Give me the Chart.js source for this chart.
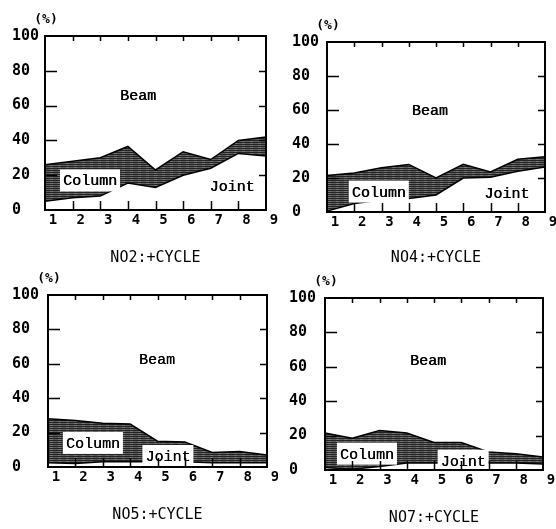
<!DOCTYPE html>
<html><head><meta charset="utf-8">
<script src="https://cdn.jsdelivr.net/npm/chart.js@4"></script>
<style>
html,body{margin:0;padding:0;background:#fff;}
#wrap{position:relative;width:556px;height:529px;overflow:hidden;background:#fff;}
.panel{position:absolute;}
canvas{display:block;}
</style></head><body>
<div id="wrap">
<div class="panel" style="left:0;top:0;"><canvas id="c1" width="278" height="270"></canvas></div>
<div class="panel" style="left:278px;top:0;"><canvas id="c2" width="278" height="270"></canvas></div>
<div class="panel" style="left:0;top:270px;"><canvas id="c3" width="278" height="259"></canvas></div>
<div class="panel" style="left:278px;top:270px;"><canvas id="c4" width="278" height="259"></canvas></div>
</div>
<script>
// ---- data ----
const cycles = ['1','2','3','4','5','6','7','8','9'];
const yTickValues = [0, 20, 40, 60, 80, 100];
const titles = ['NO2:+CYCLE', 'NO4:+CYCLE', 'NO5:+CYCLE', 'NO7:+CYCLE'];
const seriesNames = ['Joint', 'Column', 'Beam'];

const jointNO2  = [5, 7, 8, 15.5, 13, 20, 24, 32.5, 31];
const columnNO2 = [21, 21, 22, 21, 10, 13.5, 5, 7.5, 11];
const beamNO2   = [74, 72, 70, 63.5, 77, 66.5, 71, 60, 58];

const jointNO4  = [0.5, 5, 7, 8, 10, 20, 20.5, 24, 26.5];
const columnNO4 = [21, 18, 19, 20, 10, 8, 3, 7, 6];
const beamNO4   = [78.5, 77, 74, 72, 80, 72, 76.5, 69, 67.5];

const jointNO5  = [2.5, 2, 3, 3, 3, 3, 2.5, 2.5, 2.5];
const columnNO5 = [25.5, 25, 22.5, 22, 12, 11.5, 6, 6.5, 4.5];
const beamNO5   = [72, 73, 74.5, 75, 85, 85.5, 91.5, 91, 93];

const jointNO7  = [1.5, 0.5, 2, 4, 4, 4, 4, 4, 3.5];
const columnNO7 = [20, 18, 21, 17.5, 12, 12, 6.5, 5.5, 4];
const beamNO7   = [78.5, 81.5, 77, 78.5, 84, 84, 89.5, 90.5, 92.5];

// region label anchors (cycle, %)
const labelsNO2 = [{t:'Beam',x:4.37,y:66},{t:'Column',x:2.63,y:17,box:true},{t:'Joint',x:7.77,y:14}];
const labelsNO4 = [{t:'Beam',x:4.77,y:60},{t:'Column',x:2.9,y:12,box:true},{t:'Joint',x:7.6,y:11}];
const labelsNO5 = [{t:'Beam',x:4.98,y:62.5},{t:'Column',x:2.64,y:14,box:true},{t:'Joint',x:5.38,y:6.4,box:true}];
const labelsNO7 = [{t:'Beam',x:4.78,y:63.7},{t:'Column',x:2.54,y:9.5,box:true},{t:'Joint',x:6.07,y:5.4,box:true}];

// ---- layout (styles only) ----
const layouts = [
  {id:'c1', pad:{left:12,top:36,right:12,bottom:0}, yw:33, xh:60, tp:3},
  {id:'c2', pad:{left:14,top:42,right:11,bottom:0}, yw:35, xh:58, tp:3},
  {id:'c3', pad:{left:12,top:25,right:11,bottom:0}, yw:36, xh:62, tp:5},
  {id:'c4', pad:{left:11,top:28,right:13,bottom:0}, yw:36, xh:59, tp:2}
];
const panelData = [
  [jointNO2, columnNO2, beamNO2, labelsNO2],
  [jointNO4, columnNO4, beamNO4, labelsNO4],
  [jointNO5, columnNO5, beamNO5, labelsNO5],
  [jointNO7, columnNO7, beamNO7, labelsNO7]
];

const hatch = (() => {
  const c = document.createElement('canvas'); c.width = 8; c.height = 2;
  const g = c.getContext('2d');
  g.fillStyle = '#222'; g.fillRect(0,0,8,2);
  g.fillStyle = '#5e5e5e'; g.fillRect(0,1,8,1);
  g.fillStyle = '#777'; g.fillRect(2,1,3,1);
  return g.createPattern(c, 'repeat');
})();

const decor = {
  id: 'decor',
  afterDatasetsDraw(chart, args, opts) {
    const {ctx, chartArea: a, scales: {x, y}} = chart;
    ctx.save();
    // region labels
    ctx.font = '15px "Liberation Mono", monospace';
    ctx.textAlign = 'center';
    ctx.textBaseline = 'middle';
    (opts.labels || []).forEach(l => {
      const px = x.getPixelForValue(l.x - 1);
      const py = y.getPixelForValue(l.y);
      const w = ctx.measureText(l.t).width;
      if (l.box) { ctx.fillStyle = '#fff'; ctx.fillRect(px - w/2 - 3, py - 11, w + 6, 22); }
      ctx.fillStyle = '#000';
      ctx.fillText(l.t, px, py + 1);
      ctx.fillText(l.t, px + 0.4, py + 1);
    });
    // frame
    ctx.strokeStyle = '#000';
    ctx.lineWidth = 2;
    ctx.strokeRect(a.left, a.top, a.right - a.left, a.bottom - a.top);
    // inward tick marks
    ctx.lineWidth = 1.5;
    ctx.beginPath();
    yTickValues.slice(1, -1).forEach(v => {
      const py = Math.round(y.getPixelForValue(v)) + 0.5;
      ctx.moveTo(a.left, py); ctx.lineTo(a.left + 12, py);
      ctx.moveTo(a.right - 7, py); ctx.lineTo(a.right, py);
    });
    for (let i = 1; i < cycles.length - 1; i++) {
      const px = Math.round(x.getPixelForValue(i)) + 0.5;
      ctx.moveTo(px, a.bottom); ctx.lineTo(px, a.bottom - 9);
      ctx.moveTo(px, a.top); ctx.lineTo(px, a.top + 5);
    }
    ctx.stroke();
    // unit label
    ctx.font = 'bold 13px "DejaVu Sans Mono", monospace';
    ctx.fillStyle = '#000';
    ctx.textAlign = 'center';
    ctx.textBaseline = 'middle';
    ctx.fillText('(%)', a.left + 1, a.top - 16);
    ctx.restore();
  }
};

layouts.forEach((L, i) => {
  const [joint, column, beam, labels] = panelData[i];
  new Chart(document.getElementById(L.id), {
    type: 'line',
    data: {
      labels: cycles,
      datasets: [
        {label: seriesNames[0], data: joint, fill: 'origin', backgroundColor: '#fff', borderColor: '#000', borderWidth: 1.5, pointRadius: 0, tension: 0},
        {label: seriesNames[1], data: column, fill: '-1', backgroundColor: hatch, borderColor: '#000', borderWidth: 1.5, pointRadius: 0, tension: 0},
        {label: seriesNames[2], data: beam, fill: '-1', backgroundColor: '#fff', borderColor: 'rgba(0,0,0,0)', borderWidth: 1, pointRadius: 0, tension: 0}
      ]
    },
    options: {
      responsive: false,
      animation: false,
      devicePixelRatio: 1,
      layout: {padding: L.pad},
      plugins: {
        legend: {display: false},
        tooltip: {enabled: false},
        decor: {labels: labels}
      },
      scales: {
        x: {
          type: 'category',
          offset: false,
          grid: {display: false, drawTicks: false},
          border: {display: false},
          ticks: {color: '#000', font: {family: '"DejaVu Sans Mono", monospace', size: 14, weight: 'bold'}, padding: 2, labelOffset: 8, maxRotation: 0, autoSkip: false},
          title: {display: true, text: titles[i], color: '#000', font: {family: '"DejaVu Sans Mono", monospace', size: 15}, padding: {top: 0, bottom: L.tp}},
          afterFit(s) { s.height = L.xh; s.paddingLeft = 0; s.paddingRight = 0; s.paddingTop = 0; s.paddingBottom = 0; }
        },
        y: {
          stacked: true,
          min: 0, max: 100,
          grid: {display: false, drawTicks: false},
          border: {display: false},
          ticks: {stepSize: 20, color: '#000', crossAlign: 'far', padding: 6, font: {family: '"DejaVu Sans Mono", monospace', size: 15, weight: 'bold'}},
          afterBuildTicks(s) { s.ticks = yTickValues.map(v => ({value: v})); },
          afterFit(s) { s.width = L.yw; s.paddingLeft = 0; s.paddingRight = 0; s.paddingTop = 0; s.paddingBottom = 0; }
        }
      }
    },
    plugins: [decor]
  });
});
</script>
</body></html>
